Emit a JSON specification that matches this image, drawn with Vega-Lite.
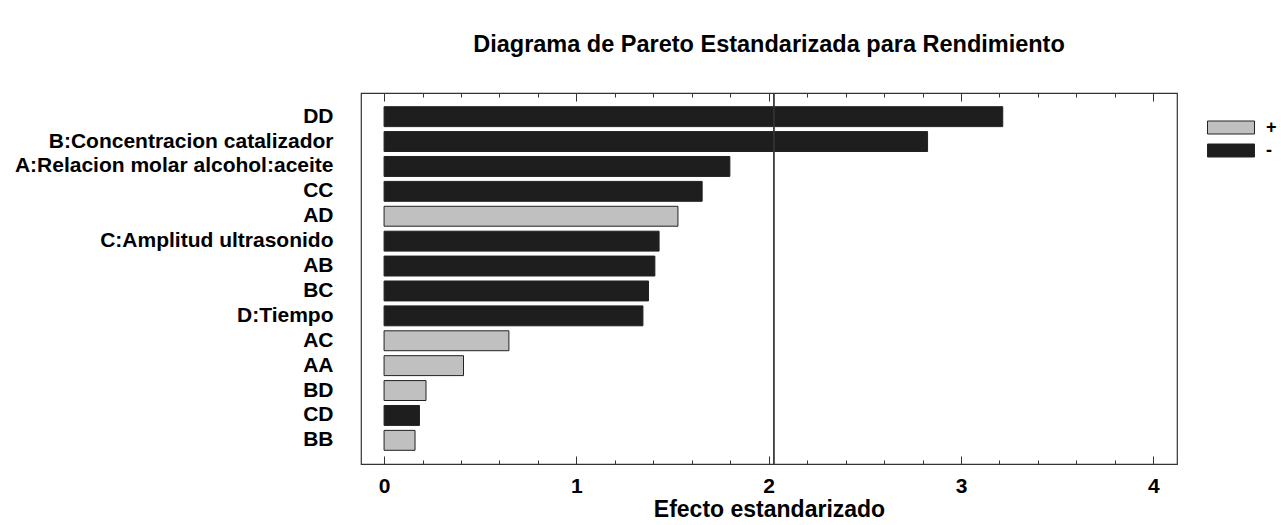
{
  "$schema": "https://vega.github.io/schema/vega-lite/v6.json",
  "autosize": {"type": "none"},
  "width": 816,
  "height": 371,
  "padding": {"left": 361, "top": 93, "right": 104, "bottom": 61},
  "background": "white",
  "config": {
    "font": "Liberation Sans",
    "view": {"stroke": "#333333", "strokeWidth": 1.2},
    "axis": {"grid": false, "domain": false}
  },
  "title": {
    "text": "Diagrama de Pareto Estandarizada para Rendimiento",
    "font": "Liberation Sans",
    "fontSize": 23.5,
    "fontWeight": "bold",
    "color": "#000000",
    "anchor": "middle",
    "offset": 36
  },
  "datasets": {
    "effects": [
      {"term": "DD", "effect": 3.217, "sign": "-"},
      {"term": "B:Concentracion catalizador", "effect": 2.826, "sign": "-"},
      {"term": "A:Relacion molar alcohol:aceite", "effect": 1.798, "sign": "-"},
      {"term": "CC", "effect": 1.654, "sign": "-"},
      {"term": "AD", "effect": 1.528, "sign": "+"},
      {"term": "C:Amplitud ultrasonido", "effect": 1.43, "sign": "-"},
      {"term": "AB", "effect": 1.408, "sign": "-"},
      {"term": "BC", "effect": 1.375, "sign": "-"},
      {"term": "D:Tiempo", "effect": 1.346, "sign": "-"},
      {"term": "AC", "effect": 0.649, "sign": "+"},
      {"term": "AA", "effect": 0.413, "sign": "+"},
      {"term": "BD", "effect": 0.218, "sign": "+"},
      {"term": "CD", "effect": 0.184, "sign": "-"},
      {"term": "BB", "effect": 0.161, "sign": "+"}
    ],
    "critical": [{"value": 2.027}]
  },
  "layer": [
    {
      "data": {"name": "effects"},
      "mark": {"type": "bar", "stroke": "#222222", "strokeWidth": 1},
      "encoding": {
        "y": {
          "field": "term",
          "type": "nominal",
          "sort": null,
          "scale": {"paddingInner": 0.2, "paddingOuter": 0.55},
          "axis": {
            "title": null,
            "ticks": false,
            "tickSize": 0,
            "labelPadding": 28,
            "labelFont": "Liberation Sans",
            "labelFontSize": 21,
            "labelFontWeight": "bold",
            "labelColor": "#000000",
            "labelLimit": 400
          }
        },
        "x": {
          "field": "effect",
          "type": "quantitative",
          "scale": {"domain": [-0.12, 4.123], "nice": false, "zero": false},
          "axis": {
            "orient": "bottom",
            "values": [0, 1, 2, 3, 4],
            "format": "d",
            "tickSize": -8,
            "tickColor": "#333333",
            "tickWidth": 1,
            "labelPadding": 19,
            "labelFont": "Liberation Sans",
            "labelFontSize": 21,
            "labelFontWeight": "bold",
            "labelColor": "#000000",
            "title": "Efecto estandarizado",
            "titleFont": "Liberation Sans",
            "titleFontSize": 23,
            "titleFontWeight": "bold",
            "titleColor": "#000000",
            "titlePadding": 2
          }
        },
        "x2": {"datum": 0},
        "color": {
          "field": "sign",
          "type": "nominal",
          "scale": {"domain": ["+", "-"], "range": ["#c0c0c0", "#1e1e1e"]},
          "legend": {
            "title": null,
            "orient": "none",
            "legendX": 861,
            "legendY": 25.5,
            "padding": 0,
            "symbolType": "M-3.615,-1L3.615,-1L3.615,1L-3.615,1Z",
            "symbolSize": 169,
            "symbolStrokeColor": "#222222",
            "symbolStrokeWidth": 1,
            "symbolOpacity": 1,
            "rowPadding": 5,
            "labelOffset": 26,
            "labelFont": "Liberation Sans",
            "labelFontSize": 18,
            "labelFontWeight": "bold",
            "labelColor": "#000000"
          }
        }
      }
    },
    {
      "data": {"name": "critical"},
      "mark": {"type": "rule", "color": "#333333", "strokeWidth": 1},
      "encoding": {
        "x": {
          "field": "value",
          "type": "quantitative",
          "axis": {
            "orient": "bottom",
            "values": [0.2, 0.4, 0.6, 0.8, 1.2, 1.4, 1.6, 1.8, 2.2, 2.4, 2.6, 2.8, 3.2, 3.4, 3.6, 3.8],
            "tickSize": -4,
            "tickColor": "#333333",
            "labels": false,
            "title": null
          }
        }
      }
    },
    {
      "data": {"name": "critical"},
      "mark": {"type": "rule", "color": "#333333", "strokeWidth": 1},
      "encoding": {
        "x": {
          "field": "value",
          "type": "quantitative",
          "axis": {
            "orient": "top",
            "values": [0, 1, 2, 3, 4],
            "tickSize": -8,
            "tickColor": "#333333",
            "labels": false,
            "title": null
          }
        }
      }
    },
    {
      "data": {"name": "critical"},
      "mark": {"type": "rule", "color": "#333333", "strokeWidth": 1},
      "encoding": {
        "x": {
          "field": "value",
          "type": "quantitative",
          "axis": {
            "orient": "top",
            "values": [0.2, 0.4, 0.6, 0.8, 1.2, 1.4, 1.6, 1.8, 2.2, 2.4, 2.6, 2.8, 3.2, 3.4, 3.6, 3.8],
            "tickSize": -4,
            "tickColor": "#333333",
            "labels": false,
            "title": null
          }
        }
      }
    }
  ],
  "resolve": {"scale": {"x": "shared"}, "axis": {"x": "independent"}}
}
